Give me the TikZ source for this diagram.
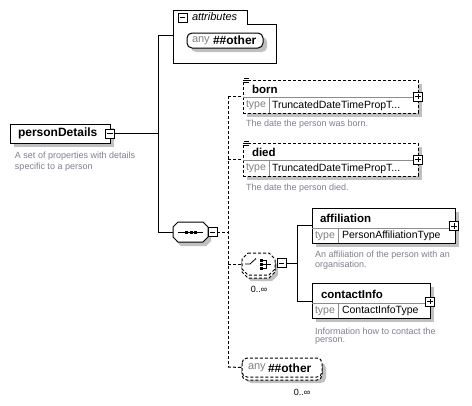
\documentclass[tikz,border=0pt]{standalone}
\usepackage{fontspec}
\setmainfont{Liberation Sans}
\usetikzlibrary{shadows}
\definecolor{desc}{RGB}{128,128,145}
\definecolor{shad}{RGB}{192,192,192}
\definecolor{divc}{RGB}{140,140,140}
\definecolor{typec}{RGB}{128,128,128}
\begin{document}
\begin{tikzpicture}[x=1pt,y=-1pt,
  every node/.style={inner sep=0pt, outer sep=0pt},
  box/.style={draw, line width=1pt, fill=white,
    drop shadow={shadow xshift=4pt, shadow yshift=-4pt, fill=shad, opacity=1}},
  dbox/.style={box, dash pattern=on 3pt off 2pt},
  dsh/.style={line width=1pt, dash pattern=on 3pt off 2pt},
  sol/.style={line width=1pt},
  divl/.style={draw=divc, line width=0.8pt},
  pmbox/.style={draw, fill=white, line width=0.8pt, minimum size=9pt, inner sep=0pt},
  pmminus/.style={pmbox, path picture={\draw[line width=0.8pt] ([xshift=1.8pt]path picture bounding box.west) -- ([xshift=-1.8pt]path picture bounding box.east);}},
  pmplus/.style={pmbox, path picture={\draw[line width=0.8pt] ([xshift=1.8pt]path picture bounding box.west) -- ([xshift=-1.8pt]path picture bounding box.east);
      \draw[line width=0.8pt] ([yshift=-1.8pt]path picture bounding box.north) -- ([yshift=1.8pt]path picture bounding box.south);}},
  nm/.style={font=\bfseries\fontsize{11.5}{13}\selectfont, anchor=west},
  tp/.style={font=\fontsize{10.5}{12}\selectfont, anchor=west},
  tpg/.style={tp, text=typec},
  ds/.style={font=\fontsize{9}{11}\selectfont, text=desc, anchor=west},
  occ/.style={font=\fontsize{9}{11}\selectfont, anchor=center}
]
\useasboundingbox[fill=white] (0,0) rectangle (472,405);

% ---------- personDetails ----------
\node[box, minimum width=100pt, minimum height=19pt] (pd) at (60,133.5) {};
\node[nm, font=\bfseries\fontsize{12}{14}\selectfont] (pdt) at (18,133.5) {personDetails};
\node[pmminus] (pdm) at (110,133.5) {};
\node[ds] (pdd1) at (15,156) {A set of properties with details};
\node[ds] (pdd2) at (15,167) {specific to a person};

% ---------- attributes ----------
\node[minimum width=103pt, minimum height=53pt] (attr) at (224.5,36.5) {};
\draw[sol] (173,10) -- (247,10) -- (247,24) -- (276,24) -- (276,63) -- (173,63) -- cycle;
\node[pmminus] (attrm) at (182.5,17.5) {};
\node[anchor=west, font=\itshape\fontsize{11}{13}\selectfont] (attrt) at (192,16.5) {attributes};
\node[box, rounded corners=5pt, minimum width=76pt, minimum height=15pt] (aany) at (225,40.5) {};
\node[anchor=west, text=typec, font=\fontsize{11}{13}\selectfont] (aany1) at (192,40.5) {any};
\node[anchor=west, font=\bfseries\fontsize{12}{14}\selectfont] (aany2) at (213,40.5) {\#\#other};

% ---------- main connectors ----------
\coordinate (jm) at (158,133.5);
\coordinate (ja) at (158,35);
\coordinate (js) at (158,232);
\draw[sol] (pdm.east) -- (jm);
\draw[sol] (ja) -- (js);
\draw[sol] (ja) -- (ja -| attr.west);

% ---------- sequence ----------
\fill[shad, shift={(3,4)}] (178,222) -- (203,222) -- (208,227) -- (208,237) -- (203,242) -- (178,242) -- (173,237) -- (173,227) -- cycle;
\draw[sol, fill=white] (178,222) -- (203,222) -- (208,227) -- (208,237) -- (203,242) -- (178,242) -- (173,237) -- (173,227) -- cycle;
\node[minimum width=35pt, minimum height=20pt] (seq) at (190.5,232) {};
\draw[line width=0.8pt] (178,232) -- (203,232);
\fill (185,231) rectangle (188,234);
\fill (189.5,231) rectangle (192.5,234);
\fill (194,231) rectangle (197,234);
\node[pmminus] (seqm) at (212.5,232) {};
\draw[sol] (js) -- (seq.west);

\coordinate (jd) at (228,232);
\coordinate (jb) at (228,96);
\coordinate (jdd) at (228,159.5);
\coordinate (jc) at (228,264);
\coordinate (jy) at (228,367);
\draw[dsh] (seqm.east) -- (jd);
\draw[dsh] (jb) -- (jy);

% ---------- born ----------
\node[dbox, anchor=north west, minimum width=175pt, minimum height=33pt] (born) at (243,80) {};
\draw[divl] (243,97) -- (418,97);
\draw[divl] (269,97) -- (269,113);
\draw[line width=0.7pt] (244,78) -- (249,78) (244,80) -- (249,80) (244,82) -- (249,82);
\node[nm] (bornt) at (252,89) {born};
\node[tpg] (bornty) at (246,105.5) {type};
\node[tp] (borntn) at (272,105.5) {TruncatedDateTimePropT...};
\node[pmplus] (bornp) at (418,96.5) {};
\node[ds] (bornd) at (246,124) {The date the person was born.};
\draw[dsh] (jb) -- (jb -| born.west);

% ---------- died ----------
\node[dbox, anchor=north west, minimum width=175pt, minimum height=33pt] (died) at (243,143) {};
\draw[divl] (243,160) -- (418,160);
\draw[divl] (269,160) -- (269,176);
\draw[line width=0.7pt] (244,141) -- (249,141) (244,143) -- (249,143) (244,145) -- (249,145);
\node[nm] (diedt) at (252,152) {died};
\node[tpg] (diedty) at (246,168.5) {type};
\node[tp] (diedtn) at (272,168.5) {TruncatedDateTimePropT...};
\node[pmplus] (diedp) at (418,159.5) {};
\node[ds] (diedd) at (246,188) {The date the person died.};
\draw[dsh] (jdd) -- (jdd -| died.west);

% ---------- choice ----------
\fill[shad, shift={(3,6)}] (248,253) -- (269,253) -- (275,259) -- (275,269) -- (269,275) -- (248,275) -- (242,269) -- (242,259) -- cycle;
\draw[dsh, fill=white, shift={(0,3)}] (248,253) -- (269,253) -- (275,259) -- (275,269) -- (269,275) -- (248,275) -- (242,269) -- (242,259) -- cycle;
\draw[dsh, fill=white] (248,253) -- (269,253) -- (275,259) -- (275,269) -- (269,275) -- (248,275) -- (242,269) -- (242,259) -- cycle;
\node[minimum width=33pt, minimum height=22pt] (cho) at (258.5,264) {};
\draw[line width=0.8pt] (245,264) -- (250,264) -- (256,258.5);
\fill (260,258.5) rectangle (263,261.5);
\fill (260,262.5) rectangle (263,265.5);
\fill (260,266.5) rectangle (263,269.5);
\draw[line width=0.8pt] (263,260) -- (266,260) -- (266,268) -- (263,268) (263,264) -- (271,264);
\node[pmminus] (chom) at (281.5,263) {};
\node[occ] (chooc) at (259,289) {0..∞};
\draw[dsh] (jc) -- (cho.west);
\coordinate (jc2) at (297,263);
\coordinate (jaf) at (297,225);
\coordinate (jci) at (297,301);
\draw[sol] (chom.east) -- (jc2);
\draw[sol] (jaf) -- (jci);

% ---------- affiliation ----------
\node[box, anchor=north west, minimum width=143pt, minimum height=35pt] (aff) at (312,208) {};
\draw[divl] (312,228) -- (455,228);
\draw[divl] (338,228) -- (338,243);
\node[nm] (afft) at (320,218) {affiliation};
\node[tpg] (affty) at (315,236) {type};
\node[tp] (afftn) at (342,236) {PersonAffiliationType};
\node[pmplus] (affp) at (454,226) {};
\node[ds] (affd1) at (315,255.5) {An affiliation of the person with an};
\node[ds] (affd2) at (315,265.5) {organisation.};
\draw[sol] (jaf) -- (jaf -| aff.west);

% ---------- contactInfo ----------
\node[box, anchor=north west, minimum width=118pt, minimum height=35pt] (ci) at (312,283) {};
\draw[divl] (312,303) -- (430,303);
\draw[divl] (338,303) -- (338,318);
\node[nm] (cit) at (321,294) {contactInfo};
\node[tpg] (city) at (315,311) {type};
\node[tp] (citn) at (342,311) {ContactInfoType};
\node[pmplus] (cip) at (430,301.5) {};
\node[ds] (cid1) at (315,331.5) {Information how to contact the};
\node[ds] (cid2) at (315,341.5) {person.};
\draw[sol] (jci) -- (jci -| ci.west);

% ---------- any ##other ----------
\fill[shad, rounded corners=5pt] (246,363) rectangle (326,383);
\draw[dsh, fill=white, rounded corners=5pt] (242,361) rectangle (322,380);
\draw[dsh, fill=white, rounded corners=5pt] (242,358) rectangle (322,377);
\node[minimum width=80pt, minimum height=19pt] (oth) at (282,367.5) {};
\node[anchor=west, text=typec, font=\fontsize{11}{13}\selectfont] (oth1) at (248,368) {any};
\node[anchor=west, font=\bfseries\fontsize{12}{14}\selectfont] (oth2) at (268,368) {\#\#other};
\node[occ] (othoc) at (302,392) {0..∞};
\draw[dsh] (jy) -- (oth.west);
\end{tikzpicture}
\end{document}
